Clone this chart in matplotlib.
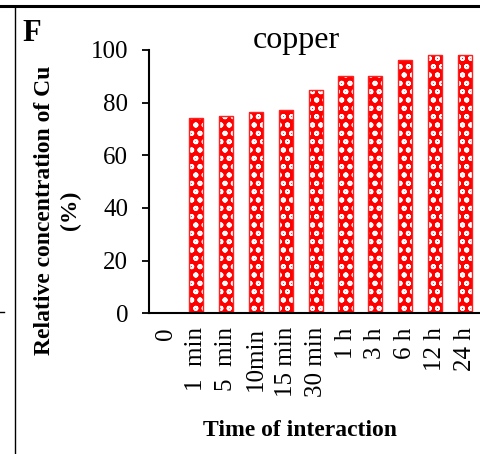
import matplotlib
matplotlib.use("Agg")
import matplotlib.pyplot as plt
from matplotlib.lines import Line2D

plt.rcParams["font.family"] = ["Liberation Serif", "DejaVu Serif"]
plt.rcParams["hatch.linewidth"] = 1.3

# Data
categories = ["0", "1  min", "5  min", "10min", "15 min", "30 min",
              "1 h", "3 h", "6 h", "12 h", "24 h"]
relative_cu = [0, 74.2, 75.0, 76.5, 77.3, 84.8, 90.2, 90.2, 96.3, 98.2, 98.2]
y_ticks = [0, 20, 40, 60, 80, 100]

fig = plt.figure(figsize=(4.81, 4.54), dpi=100)
ax = fig.add_axes([149 / 481, 1 - 313.3 / 454, 332 / 481, (313.3 - 50) / 454])

x = list(range(len(categories)))
bar_width = 0.47
# patterned fill
ax.bar(x, relative_cu, width=bar_width, color="#ff0000", edgecolor="white",
       hatch="oo", linewidth=0)
# outline
ax.bar(x, relative_cu, width=bar_width, fill=False, edgecolor="#ff2020",
       linewidth=1.0)

ax.set_xlim(-0.57, 10.53)
ax.set_ylim(0, 100)
ax.set_yticks(y_ticks)
ax.set_xticks(x)
ax.set_xticklabels(categories, rotation=90)

for side in ("top", "right"):
    ax.spines[side].set_visible(False)
ax.spines["left"].set_linewidth(1.5)
ax.spines["bottom"].set_linewidth(1.5)

ax.tick_params(axis="y", direction="out", length=5, width=1.3, pad=10, labelsize=18)
ax.tick_params(axis="x", length=0, pad=10, labelsize=18)

fig.text(296 / 481, 1 - 48 / 454, "copper", fontsize=23, ha="center",
         va="baseline")
fig.text(300 / 481, 1 - 436 / 454, "Time of interaction", fontsize=17,
         fontweight="bold", ha="center", va="baseline")
fig.text(58 / 481, 1 - 210 / 454, "Relative concentration of Cu\n(%)",
         fontsize=17, fontweight="bold", rotation=90, ha="center",
         va="center", multialignment="center", linespacing=1.3)

fig.text(22 / 481, 1 - 41 / 454, "F", fontsize=22, fontweight="bold",
         ha="left", va="baseline")

# panel frame lines
fig.add_artist(Line2D([0, 1], [1 - 6 / 454, 1 - 6 / 454], color="black", lw=2.2,
                      transform=fig.transFigure))
fig.add_artist(Line2D([15 / 481, 15 / 481], [0, 1 - 6 / 454], color="black", lw=1.0,
                      transform=fig.transFigure))
fig.add_artist(Line2D([0, 4 / 481], [1 - 312 / 454, 1 - 312 / 454], color="black",
                      lw=1.0, transform=fig.transFigure))

fig.savefig("out.png", dpi=100)
